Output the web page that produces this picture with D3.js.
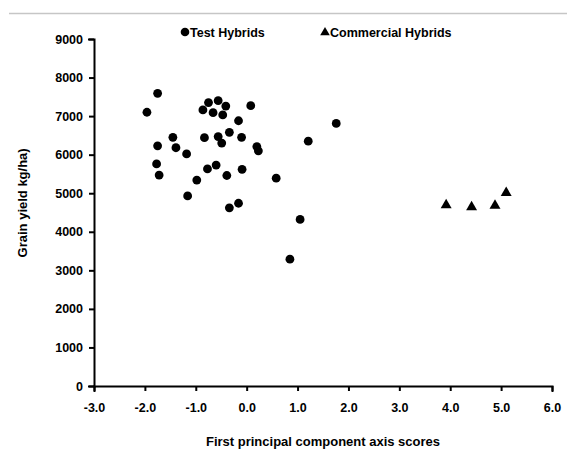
<!doctype html>
<html>
<head>
  <meta charset="utf-8">
  <title>Grain yield vs first principal component</title>
  <script src="https://d3js.org/d3.v7.min.js"></script>
  <style>
  body { margin: 0; background: #fff; }
  svg text { font-family: "Liberation Sans", Arial, sans-serif; font-weight: bold; fill: #000; }
  .axis path, .axis line { stroke: #000; stroke-width: 2px; }
  .axis text { font-size: 12.5px; }
  </style>
</head>
<body>
  <div id="vis"></div>
  <script>
  var width = 567;
  var height = 453;
  var margin = { top: 39, right: 15, bottom: 67, left: 94 };

  // first principal component score / grain yield (kg/ha)
  var testX = [-1.75, -1.96, -0.75, -0.56, -0.41, -0.86, -0.66, -0.47, 0.08, -0.16,
               -1.45, -0.83, -0.56, -0.49, -0.34, -0.10, 0.20, 0.23, -1.75, -1.39,
               -1.18, -1.77, -1.72, -0.77, -0.60, -0.39, -0.09, 0.58, -0.98, -1.16,
               -0.34, -0.16, 1.05, 0.85, 1.21, 1.76];
  var testY = [7590, 7100, 7350, 7400, 7260, 7160, 7090, 7030, 7270, 6880,
               6450, 6440, 6470, 6300, 6580, 6450, 6210, 6100, 6230, 6180,
               6020, 5760, 5470, 5630, 5730, 5460, 5620, 5390, 5340, 4930,
               4620, 4740, 4320, 3290, 6350, 6810];
  var commX = [3.92, 4.42, 4.88, 5.10];
  var commY = [4690, 4640, 4680, 5010];

  var xTicks = [-3, -2, -1, 0, 1, 2, 3, 4, 5, 6];
  var yTicks = [0, 1000, 2000, 3000, 4000, 5000, 6000, 7000, 8000, 9000];
  var seriesNames = ['Test Hybrids', 'Commercial Hybrids'];

  var svg = d3.select('#vis').append('svg')
    .attr('width', width)
    .attr('height', height);

  // thin grey rule at the very top
  svg.append('line')
    .attr('x1', 9).attr('x2', width)
    .attr('y1', 13.5).attr('y2', 13.5)
    .attr('stroke', '#c6c6c6')
    .attr('stroke-width', 1.5);

  var x = d3.scaleLinear().domain([-3, 6]).range([margin.left, width - margin.right]);
  var y = d3.scaleLinear().domain([0, 9000]).range([height - margin.bottom, margin.top]);

  // plain hyphen for negatives, like the original
  var fmtX = function(d){ return d.toFixed(1); };

  svg.append('g')
    .attr('class', 'axis')
    .attr('transform', 'translate(0,' + y(0) + ')')
    .call(d3.axisBottom(x).tickValues(xTicks).tickFormat(fmtX).tickSize(5).tickSizeOuter(5).tickPadding(12));

  svg.append('g')
    .attr('class', 'axis')
    .attr('transform', 'translate(' + x(-3) + ',0)')
    .call(d3.axisLeft(y).tickValues(yTicks).tickFormat(d3.format('d')).tickSize(5).tickSizeOuter(5).tickPadding(6));

  svg.selectAll('.axis .domain').attr('stroke-linecap', 'square');

  // axis titles
  svg.append('text')
    .attr('x', (x(-3) + x(6)) / 2)
    .attr('y', 446)
    .attr('text-anchor', 'middle')
    .style('font-size', '13px')
    .text('First principal component axis scores');

  svg.append('text')
    .attr('transform', 'translate(27,' + y(4750) + ') rotate(-90)')
    .attr('text-anchor', 'middle')
    .style('font-size', '13px')
    .text('Grain yield kg/ha)');

  // points
  var tri = d3.symbol().type(d3.symbolTriangle).size(52);

  svg.append('g').selectAll('circle')
    .data(d3.range(testX.length))
    .enter().append('circle')
      .attr('cx', function(i){ return x(testX[i]); })
      .attr('cy', function(i){ return y(testY[i]); })
      .attr('r', 4.4)
      .attr('fill', '#000');

  svg.append('g').selectAll('path')
    .data(d3.range(commX.length))
    .enter().append('path')
      .attr('d', tri)
      .attr('transform', function(i){ return 'translate(' + x(commX[i]) + ',' + y(commY[i]) + ')'; })
      .attr('fill', '#000');

  // legend
  var legend = svg.append('g');
  legend.append('circle').attr('cx', 185).attr('cy', 32).attr('r', 4.3).attr('fill', '#000');
  legend.append('text').attr('x', 190).attr('y', 36.5).style('font-size', '12.5px').text(seriesNames[0]);
  legend.append('path').attr('d', d3.symbol().type(d3.symbolTriangle).size(40))
    .attr('transform', 'translate(325,32.5)').attr('fill', '#000');
  legend.append('text').attr('x', 330).attr('y', 36.5).style('font-size', '12.5px').text(seriesNames[1]);
  </script>
</body>
</html>
